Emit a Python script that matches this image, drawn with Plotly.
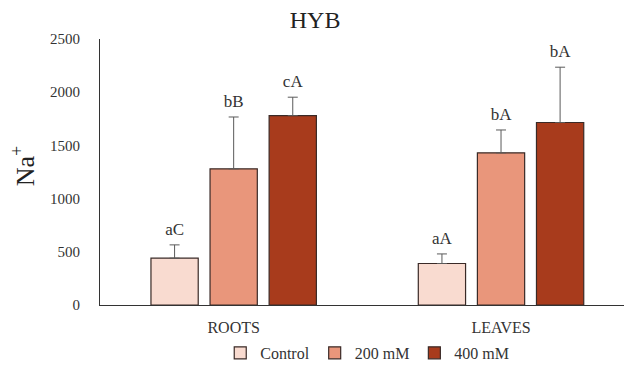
import plotly.graph_objects as go

# Na+ content by tissue and NaCl treatment (HYB)
tissues = ["ROOTS", "LEAVES"]
treatments = ["Control", "200 mM", "400 mM"]
na_means = {
    "Control": [440, 390],
    "200 mM": [1280, 1430],
    "400 mM": [1780, 1715],
}
na_errors = {
    "Control": [125, 90],
    "200 mM": [487, 215],
    "400 mM": [173, 520],
}
letters = {
    "Control": ["aC", "aA"],
    "200 mM": ["bB", "bA"],
    "400 mM": ["cA", "bA"],
}
y_ticks = [0, 500, 1000, 1500, 2000, 2500]

colors = {"Control": "#F9DBD0", "200 mM": "#E9967B", "400 mM": "#A83B1C"}
edge = "#3a2a27"
font_family = "Liberation Serif, Times New Roman, serif"

fig = go.Figure()

for t in treatments:
    fig.add_trace(go.Bar(
        name=t,
        x=tissues,
        y=na_means[t],
        offsetgroup=t,
        marker=dict(color=colors[t], line=dict(color=edge, width=1.2)),
        error_y=dict(type="data", array=na_errors[t],
                     arrayminus=[0] * len(tissues), symmetric=False,
                     color="#5a5a5a", thickness=1, width=5),
    ))

# significance letters above each error bar (transparent marker pads the text)
for t in treatments:
    tops = [m + e for m, e in zip(na_means[t], na_errors[t])]
    fig.add_trace(go.Scatter(
        x=tissues,
        y=tops,
        offsetgroup=t,
        mode="markers+text",
        marker=dict(size=8, color="rgba(0,0,0,0)"),
        text=letters[t],
        textposition="top center",
        textfont=dict(family=font_family, size=17, color="#333333"),
        showlegend=False,
        hoverinfo="skip",
    ))

fig.update_layout(
    width=624,
    height=370,
    margin=dict(l=100, r=0, t=39, b=65),
    paper_bgcolor="white",
    plot_bgcolor="white",
    barmode="group",
    scattermode="group",
    bargap=0.337,
    bargroupgap=0.2,
    font=dict(family=font_family, size=16, color="#333333"),
    title=dict(text="HYB", x=0.505, xanchor="center", y=0.946, yanchor="middle",
               font=dict(family=font_family, size=24, color="#222222")),
    legend=dict(orientation="h", x=0.51, xanchor="center", y=-0.18,
                yanchor="middle", font=dict(size=16, color="#333333"),
                itemwidth=30, tracegroupgap=0, bgcolor="rgba(0,0,0,0)"),
    showlegend=True,
)

fig.update_xaxes(
    range=[-0.5, 1.46],
    showline=True, linecolor="#333333", linewidth=1.2,
    showgrid=False, ticks="", ticklabelstandoff=8,
    tickfont=dict(family=font_family, size=16, color="#333333"),
)
fig.update_yaxes(
    range=[0, 2500],
    tickvals=y_ticks,
    showline=True, linecolor="#333333", linewidth=1.2,
    showgrid=False, zeroline=False, ticks="", ticklabelstandoff=16,
    tickfont=dict(family=font_family, size=15, color="#333333"),
)

fig.add_annotation(
    text="Na<sup>+</sup>", textangle=-90,
    xref="paper", yref="paper", x=-0.147, y=0.525,
    xanchor="center", yanchor="middle", showarrow=False,
    font=dict(family=font_family, size=26, color="#222222"),
)

fig.write_html("out.html")
